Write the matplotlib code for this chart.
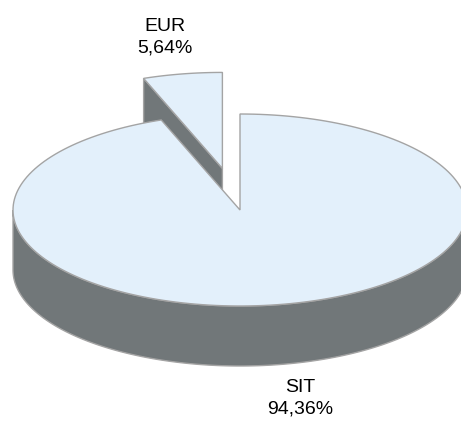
import numpy as np
import matplotlib
matplotlib.use("Agg")
import matplotlib.pyplot as plt
from matplotlib.patches import Polygon

# data
labels = ["EUR", "SIT"]
shares = [5.64, 94.36]
explode = [0.44, 0.0]

# style / layout (pixel space)
cx, cy = 240, 210
rx, ry = 227, 96
depth = 60
top_color = "#E3F0FB"
side_color = "#717779"
edge_color = "#A4A4A4"
label_pos = [(165, 37), (300, 398)]

plt.rcParams["font.family"] = ["Liberation Sans", "DejaVu Sans"]

fig = plt.figure(figsize=(4.61, 4.21), dpi=100)
ax = fig.add_axes([0, 0, 1, 1])
ax.set_xlim(0, 461)
ax.set_ylim(421, 0)
ax.axis("off")


def rim(theta, dx=0.0, dy=0.0, down=0.0):
    t = np.radians(theta)
    return np.column_stack([cx + dx + rx * np.cos(t), cy + dy - ry * np.sin(t) + down])


# slice angles, counter-clockwise from 12 o'clock
angles = []
start = 90.0
for s in shares:
    end = start + s / 100.0 * 360.0
    angles.append((start, end))
    start = end

patches_back = []
patches_front = []
for i, (a0, a1) in enumerate(angles):
    mid = np.radians((a0 + a1) / 2)
    dx = explode[i] * rx * np.cos(mid)
    dy = -explode[i] * ry * np.sin(mid)
    arc = rim(np.linspace(a0, a1, 200), dx, dy)
    apex = np.array([[cx + dx, cy + dy]])
    top = np.vstack([apex, arc])
    if explode[i] > 0:
        # visible cut face at the end angle
        p_top = rim(np.array([a1]), dx, dy)
        face = np.vstack([apex, p_top, p_top + [0, depth], apex + [0, depth]])
        ax.add_patch(Polygon(face, closed=True, fc=side_color, ec=edge_color, lw=1.0, zorder=1))
        ax.add_patch(Polygon(top, closed=True, fc=top_color, ec=edge_color, lw=1.0, zorder=2))
    else:
        # front wall
        th = np.linspace(max(a0, 180), min(a1, 360), 300)
        upper = rim(th, dx, dy)
        lower = rim(th[::-1], dx, dy, down=depth)
        wall = np.vstack([upper, lower])
        ax.add_patch(Polygon(wall, closed=True, fc=side_color, ec=edge_color, lw=1.0, zorder=3))
        ax.add_patch(Polygon(top, closed=True, fc=top_color, ec=edge_color, lw=1.0, zorder=4))

for i, lab in enumerate(labels):
    txt = lab + "\n" + ("%.2f" % shares[i]).replace(".", ",") + "%"
    ax.text(label_pos[i][0], label_pos[i][1], txt, ha="center", va="center",
            fontsize=14, linespacing=1.35, color="black", zorder=5)

fig.savefig("out.png", dpi=100)
